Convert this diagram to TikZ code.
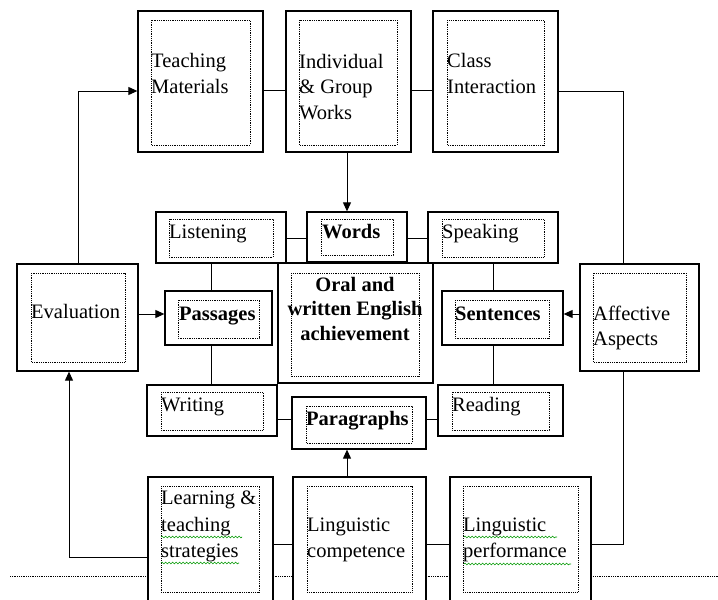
\documentclass[tikz,border=0pt]{standalone}
\usepackage{fontspec}
\setmainfont{Liberation Serif}
\usetikzlibrary{arrows.meta,decorations.pathmorphing}

\tikzset{
  outbox/.style={draw,line width=1.3pt,fill=white,inner sep=0pt},
  dotbox/.style={densely dotted,line width=0.8pt},
  % base anchor = baseline of the last line
  txt/.style={inner sep=0pt,anchor=base west,align=left,
    font=\fontsize{20.5}{25.5}\selectfont},
  btxt/.style={txt,font=\fontsize{20.5}{25.5}\selectfont\bfseries},
  link/.style={line width=1pt},
  squig/.style={green!60!black,line width=0.6pt,decorate,
    decoration={snake,amplitude=0.9pt,segment length=3.5pt}}
}

\begin{document}
\begin{tikzpicture}[x=1pt,y=-1pt,>={Triangle[length=9pt,width=8pt]}]
\clip (0,0) rectangle (718,600);
\draw[dotbox] (10,576) -- (718,576);
% centre box first, the small boxes sit on its top edge
\node[outbox,minimum width=155,minimum height=120] (oe) at (355.5,323) {};
\node[outbox,minimum width=125,minimum height=141] (tm) at (200.5,81.5) {};
\node[outbox,minimum width=125,minimum height=141] (ig) at (348.5,81.5) {};
\node[outbox,minimum width=125,minimum height=141] (ci) at (495.5,81.5) {};
\node[outbox,minimum width=121,minimum height=107] (ev) at (77.5,317.5) {};
\node[outbox,minimum width=119,minimum height=107] (af) at (639.5,317.5) {};
\node[outbox,minimum width=130,minimum height=51] (li) at (221,237.5) {};
\node[outbox,minimum width=100,minimum height=50] (wo) at (357,237) {};
\node[outbox,minimum width=130,minimum height=51] (sp) at (493,237.5) {};
\node[outbox,minimum width=107,minimum height=54] (pa) at (218.5,318) {};
\node[outbox,minimum width=121,minimum height=54] (se) at (502.5,318) {};
\node[outbox,minimum width=130,minimum height=51] (wr) at (212,410.5) {};
\node[outbox,minimum width=134,minimum height=52] (pg) at (359,423) {};
\node[outbox,minimum width=125,minimum height=51] (re) at (500.5,410.5) {};
\node[outbox,minimum width=125,minimum height=129] (lt) at (210.5,541.5) {};
\node[outbox,minimum width=133,minimum height=129] (lc) at (359.5,541.5) {};
\node[outbox,minimum width=141,minimum height=129] (lp) at (520.5,541.5) {};
% dotted inner frames
\draw[dotbox] (151,20) rectangle (250,145);
\draw[dotbox] (299,20) rectangle (397,145);
\draw[dotbox] (447,20) rectangle (544,145);
\draw[dotbox] (31,273) rectangle (125,362);
\draw[dotbox] (593,273) rectangle (686,362);
\draw[dotbox] (169,219) rectangle (273,257);
\draw[dotbox] (321,219) rectangle (393,255);
\draw[dotbox] (442,219) rectangle (544,257);
\draw[dotbox] (291,273) rectangle (419,376);
\draw[dotbox] (178,300) rectangle (259,338);
\draw[dotbox] (455,300) rectangle (549,338);
\draw[dotbox] (161,392) rectangle (263,430);
\draw[dotbox] (306,406) rectangle (412,443);
\draw[dotbox] (452,392) rectangle (549,430);
\draw[dotbox] (161,486) rectangle (259,592);
\draw[dotbox] (307,486) rectangle (412,592);
\draw[dotbox] (463,486) rectangle (578,592);
% texts
\node[txt] (tmt) at (151,93) {Teaching\\Materials};
\node[txt] (igt) at (299,119) {Individual\\\& Group\\Works};
\node[txt] (cit) at (447,93) {Class\\Interaction};
\node[txt] (evt) at (31,318) {Evaluation};
\node[txt,font=\fontsize{20.5}{24.5}\selectfont] (aft) at (593,345) {Affective\\Aspects};
\node[txt] (lit) at (169,238) {Listening};
\node[btxt] (wot) at (322,238) {Words};
\node[txt] (spt) at (442,238) {Speaking};
\node[btxt,anchor=base,align=center,font=\fontsize{20.5}{24.5}\selectfont\bfseries] (oet) at (355,340) {Oral and\\written English\\achievement};
\node[btxt] (pat) at (179,320) {Passages};
\node[btxt] (set) at (455,320) {Sentences};
\node[txt] (wrt) at (161,411) {Writing};
\node[btxt] (pgt) at (306,425) {Paragraphs};
\node[txt] (ret) at (452,411) {Reading};
\node[txt,font=\fontsize{20.5}{26.5}\selectfont] (ltt) at (161,557.5) {Learning \&\\teaching\\strategies};
\node[txt,font=\fontsize{20.5}{26.5}\selectfont] (lct) at (307,557.5) {Linguistic\\competence};
\node[txt,font=\fontsize{20.5}{26.5}\selectfont] (lpt) at (463,557.5) {Linguistic\\performance};
\draw[squig] (161,537) -- (242,537);
\draw[squig] (161,563) -- (239,563);
\draw[squig] (464,537) -- (557,537);
\draw[squig] (464,564) -- (571,564);
% connectors
\draw[link] (tm.east |- 0,90) -- (ig.west |- 0,90);
\draw[link] (ig.east |- 0,90) -- (ci.west |- 0,90);
\draw[link] (ci.east |- 0,91) -| (af.north -| 623,0);
\draw[link,->] (ig.south -| 347,0) -- (wo.north -| 347,0);
\draw[link,->] (ev.north -| 78,0) |- (tm.west |- 0,91);
\draw[link,->] (lt.west |- 0,557) -| (ev.south -| 69,0);
\draw[link,->] (ev.east |- 0,314) -- (pa.west |- 0,314);
\draw[link,->] (af.west |- 0,314) -- (se.east |- 0,314);
\draw[link] (li.east |- 0,238) -- (wo.west |- 0,238);
\draw[link] (wo.east |- 0,238) -- (sp.west |- 0,238);
\draw[link] (li.south -| 211,0) -- (pa.north -| 211,0);
\draw[link] (pa.south -| 211,0) -- (wr.north -| 211,0);
\draw[link] (sp.south -| 493,0) -- (se.north -| 493,0);
\draw[link] (se.south -| 493,0) -- (re.north -| 493,0);
\draw[link] (wr.east |- 0,419) -- (pg.west |- 0,419);
\draw[link] (pg.east |- 0,419) -- (re.west |- 0,419);
\draw[link,->] (lc.north -| 347,0) -- (pg.south -| 347,0);
\draw[link] (lt.east |- 0,544) -- (lc.west |- 0,544);
\draw[link] (lc.east |- 0,544) -- (lp.west |- 0,544);
\draw[link] (lp.east |- 0,544) -| (af.south -| 623,0);
\end{tikzpicture}
\end{document}
